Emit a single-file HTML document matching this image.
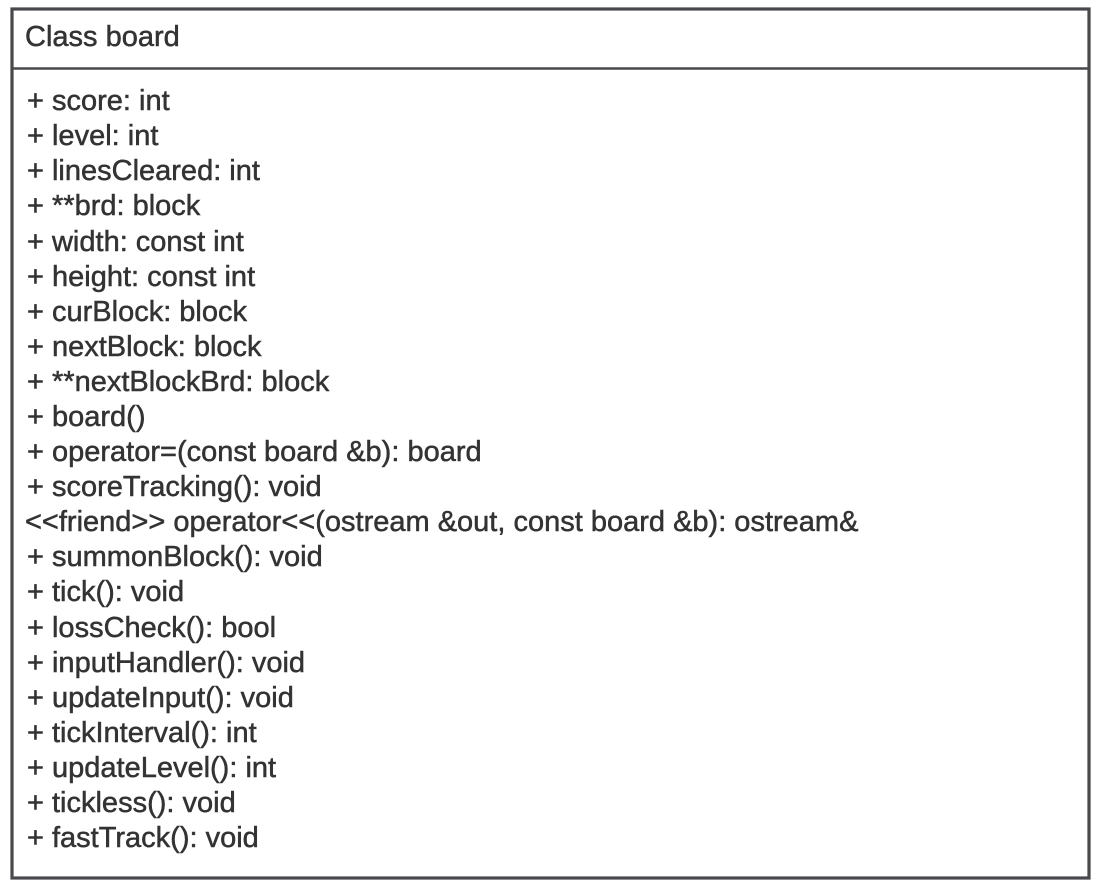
<!DOCTYPE html>
<html><head><meta charset="utf-8"><style>
html,body{margin:0;padding:0;background:#fff;}
svg{display:block;}
text{font-family:"Liberation Sans",Arial,sans-serif;font-size:29px;fill:#333;stroke:#333;stroke-width:0.5px;}
</style></head><body>
<svg width="1102" height="888" viewBox="0 0 1102 888">
<rect x="12" y="9" width="1077" height="869" fill="#fff" stroke="#48484d" stroke-width="3.2"/>
<line x1="12" y1="68.5" x2="1089" y2="68.5" stroke="#48484d" stroke-width="2.5"/>
<text x="25" y="46">Class board</text>
<g>
<text x="27" y="110">+ score: int</text>
<text x="27" y="145">+ level: int</text>
<text x="27" y="180">+ linesCleared: int</text>
<text x="27" y="215">+ **brd: block</text>
<text x="27" y="251">+ width: const int</text>
<text x="27" y="286">+ height: const int</text>
<text x="27" y="321">+ curBlock: block</text>
<text x="27" y="356">+ nextBlock: block</text>
<text x="27" y="391">+ **nextBlockBrd: block</text>
<text x="27" y="426">+ board()</text>
<text x="27" y="461">+ operator=(const board &amp;b): board</text>
<text x="27" y="496">+ scoreTracking(): void</text>
<text x="25" y="531">&lt;&lt;friend&gt;&gt; operator&lt;&lt;(ostream &amp;out, const board &amp;b): ostream&amp;</text>
<text x="27" y="566">+ summonBlock(): void</text>
<text x="27" y="601">+ tick(): void</text>
<text x="27" y="637">+ lossCheck(): bool</text>
<text x="27" y="672">+ inputHandler(): void</text>
<text x="27" y="707">+ updateInput(): void</text>
<text x="27" y="742">+ tickInterval(): int</text>
<text x="27" y="777">+ updateLevel(): int</text>
<text x="27" y="812">+ tickless(): void</text>
<text x="27" y="847">+ fastTrack(): void</text>
</g>
</svg>
</body></html>
